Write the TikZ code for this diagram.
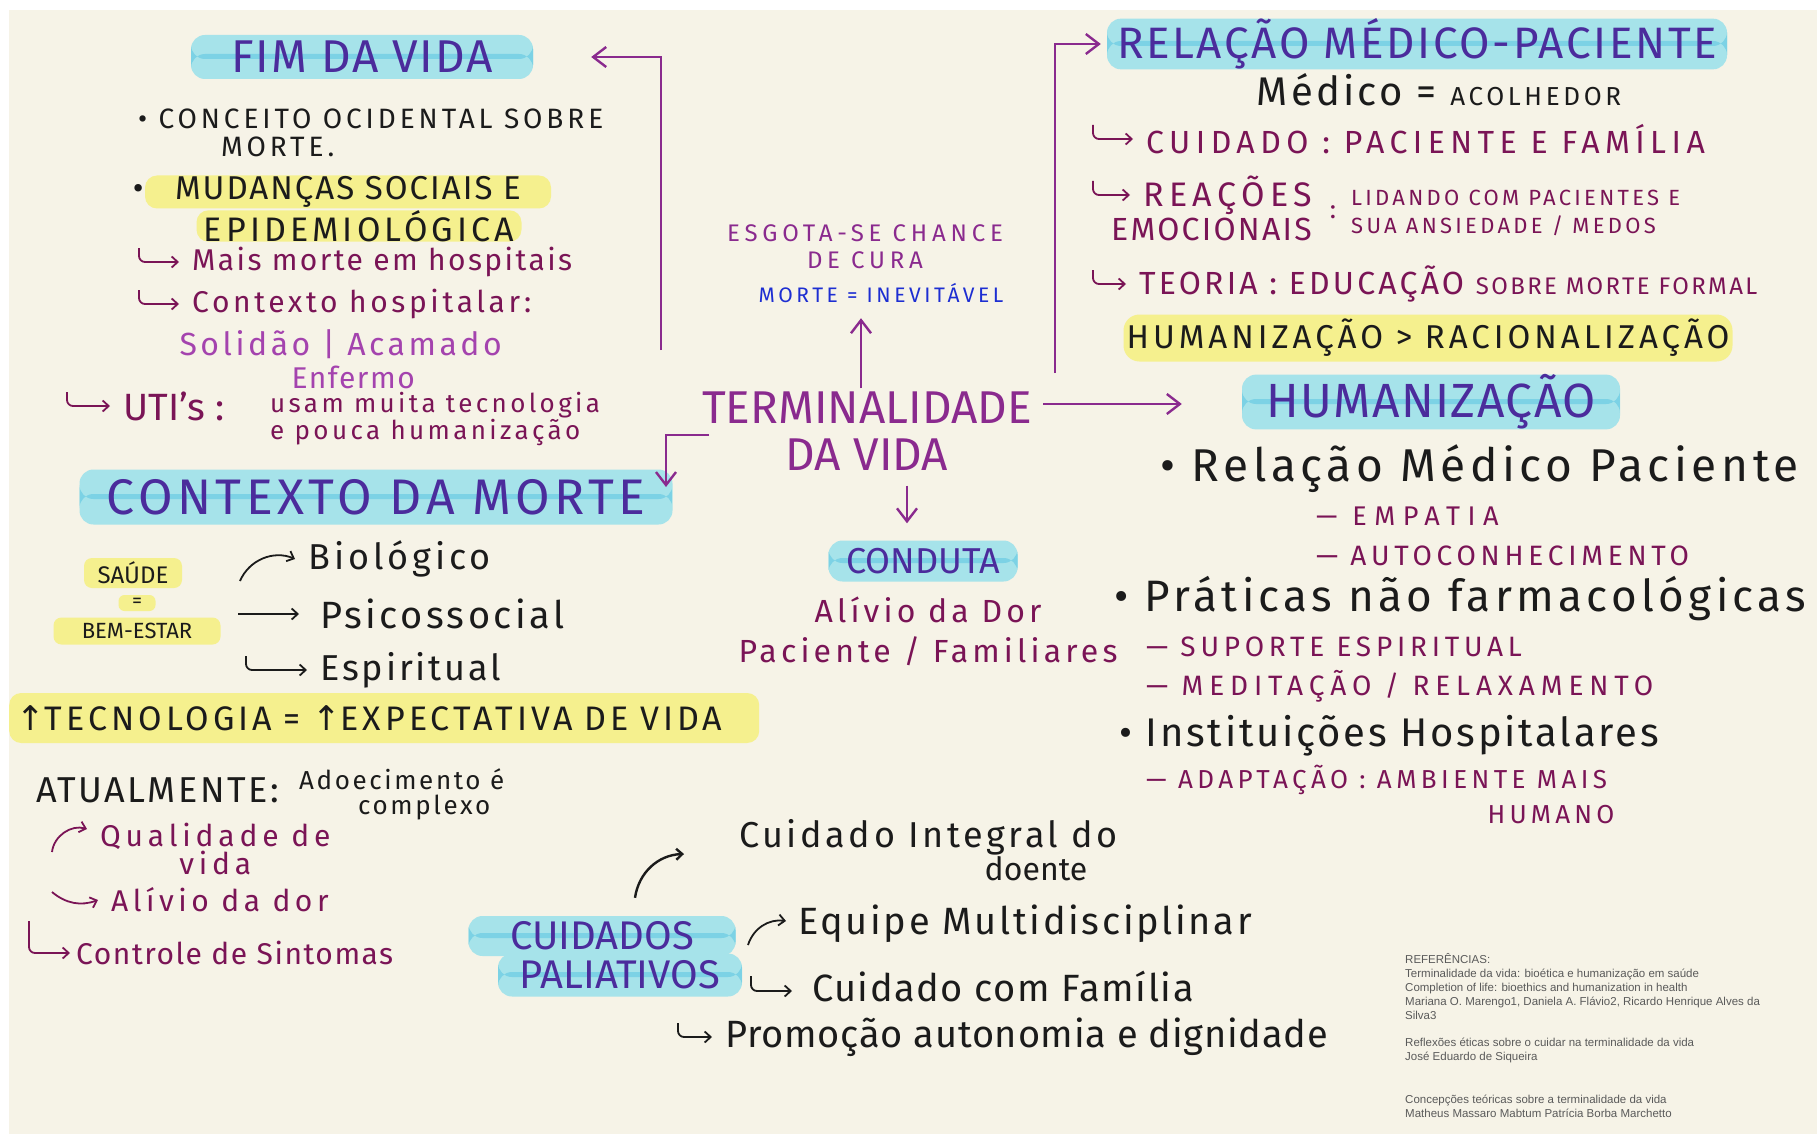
\documentclass[tikz,border=0pt]{standalone}
\usepackage{fontspec}
\setmainfont{Fira Sans}
\newfontfamily\reffont{Liberation Sans}
\newfontfamily\symfont{DejaVu Sans}
\usetikzlibrary{positioning,arrows.meta,calc}

\definecolor{paper}{HTML}{F6F3E7}
\definecolor{hlcyan}{HTML}{A6E3EA}
\definecolor{hlband}{HTML}{7CD2E5}
\definecolor{hlyellow}{HTML}{F5F08E}
\definecolor{titleblue}{HTML}{4B2C9C}
\definecolor{stem}{HTML}{8A2A8E}
\definecolor{plumtxt}{HTML}{7A1456}
\definecolor{lilac}{HTML}{A443AE}
\definecolor{inev}{HTML}{1D2ED2}
\definecolor{inkblack}{HTML}{1B1B1B}
\definecolor{refgray}{HTML}{5A5A5A}

\newcommand\fs[2]{\fontsize{#1}{#2}\selectfont}
\newcommand\ls[1]{\addfontfeature{LetterSpace=#1}}
\newcommand\hookin[3][inkblack]{%
  \draw[hk=#1] ([shift={(-#2pt,14pt)}]#3.west) |- ([xshift=-12pt]#3.west);}

\tikzset{
  ink/.style={text=inkblack,inner sep=1pt},
  plum/.style={text=plumtxt,inner sep=1pt},
  ttl/.style={text=titleblue,fill=hlcyan,rounded corners=14pt,inner sep=0pt,
    path picture={\fill[hlband] ([yshift=-2pt]path picture bounding box.west)
      rectangle ([yshift=3pt]path picture bounding box.east);}},
  hly/.style={fill=hlyellow,rounded corners=12pt,inner sep=0pt},
  arr/.style={draw=stem,line width=2.4pt,-{Straight Barb[length=13pt,width=20pt]}},
  hk/.style={draw=#1,line width=1.8pt,rounded corners=6pt,
    -{Straight Barb[length=6pt,width=11pt]}},
  hk/.default=inkblack,
}

\begin{document}
\begin{tikzpicture}[x=1pt,y=-1pt]

	\fill[white] (0,0) rectangle (1817,1134);
	\fill[paper] (9,10) rectangle (1817,1134);
	\useasboundingbox (0,0) rectangle (1817,1134);

	%%%%%%%%%%%%%%%%%%%%%%%%%%%%%%%%%%%%%%%%%%%%%%%%%%%%%%

	\node [text=stem,align=center,inner sep=1pt,font={\fs{46}{47}}] (term) at (867,431) {TERMINALIDADE\\DA VIDA};

	\node [text=stem,align=center,font={\fs{24}{27}\ls{20}}] (esgota) at (865,247) {ESGOTA-SE CHANCE\\DE CURA};
	\node [text=inev,font={\fs{21}{24}\ls{17}}] (inev) at (881,293) {MORTE = INEVITÁVEL};
	\draw [arr,shorten <=2pt,shorten >=12pt] ([xshift=-6pt]term.north) -- ([xshift=-20pt]inev.south);

	\node [ttl,minimum width=189pt,minimum height=41pt,font={\fs{36}{40}}] (conduta) at (923,561) {CONDUTA};
	\draw [arr,shorten <=14pt,shorten >=17pt] ([xshift=40pt]term.south) -- ([xshift=-16pt]conduta.north);
	\node [plum,align=center,font={\fs{32}{40}\ls{13}}] (conduta-txt) at (928,631) {Alívio da Dor\\Paciente / Familiares};

	%%%%%%%%%%%%%%%%%%%%%%%%%%%%%%%%%%%%%%%%%%%%%%%%%%%%%%

	\node [ttl,minimum width=342pt,minimum height=44pt,font={\fs{46}{48}\ls{4}}] (fim) at (362,57) {FIM DA VIDA};
	\coordinate (fim-root) at (661,350);
	\draw [arr] (fim-root) |- ([xshift=58pt]fim.east);

	\node [ink,anchor=west,font={\fs{28}{32}\ls{14}}] (conc) at (137,119) {• CONCEITO OCIDENTAL SOBRE};
	\node [ink,anchor=west,font={\fs{28}{32}\ls{14}}] (conc-b) at (220,147) {MORTE.};

	\node [ink,hly,minimum width=406pt,minimum height=33pt,font={\fs{33}{36}\ls{6}}] (mud-a) at (348,192) {MUDANÇAS SOCIAIS E};
	\node [ink,left=0pt of mud-a,font={\fs{33}{36}}] (mud-dot) {•};
	\node [ink,hly,minimum width=325pt,minimum height=30pt,font={\fs{34}{36}\ls{12}}] (mud-b) at (359,226) {EPIDEMIOLÓGICA};

	\node [plum,anchor=west,font={\fs{30}{34}\ls{8}}] (mais) at (191,262) {Mais morte em hospitais};
	\hookin[plumtxt]{52}{mais}
	\node [plum,anchor=west,font={\fs{30}{34}\ls{12}}] (hosp) at (191,304) {Contexto hospitalar:};
	\hookin[plumtxt]{52}{hosp}
	\node [text=lilac,anchor=west,font={\fs{32}{36}\ls{11}}] (solid) at (176,344) {Solidão | Acamado};
	\node [text=lilac,anchor=west,font={\fs{30}{34}\ls{5}}] (enf) at (288,377) {Enfermo};
	\node [plum,anchor=west,font={\fs{38}{42}}] (uti) at (122,406) {UTI's :};
	\hookin[plumtxt]{55}{uti}
	\node [plum,anchor=west,align=left,font={\fs{26}{27}\ls{13}}] (usam) at (269,419) {usam muita tecnologia\\e pouca humanização};

	%%%%%%%%%%%%%%%%%%%%%%%%%%%%%%%%%%%%%%%%%%%%%%%%%%%%%%

	\node [ttl,minimum width=593pt,minimum height=55pt,font={\fs{50}{54}\ls{9}}] (ctx) at (376,497) {CONTEXTO DA MORTE};
	\coordinate (ctx-tip) at (666,487);
	\draw [arr] ([xshift=8pt,yshift=-4pt]term.west) -| (ctx-tip);

	\node [ink,hly,minimum width=98pt,minimum height=30pt,rounded corners=8pt,font={\fs{24}{26}}] (saude) at (133,573) {SAÚDE};
	\node [ink,hly,minimum width=37pt,minimum height=16pt,rounded corners=6pt,font={\fs{20}{20}}] (saude-eq) at (137,603) {=};
	\node [ink,hly,minimum width=167pt,minimum height=27pt,rounded corners=8pt,font={\fs{22}{24}}] (bem) at (137,631) {BEM-ESTAR};

	\node [ink,anchor=west,font={\fs{36}{40}\ls{11}}] (bio) at (307,559) {Biológico};
	\node [ink,anchor=west,font={\fs{38}{42}\ls{9}}] (psico) at (319,614) {Psicossocial};
	\node [ink,anchor=west,font={\fs{36}{40}\ls{8}}] (esp) at (319,670) {Espiritual};
	\draw [hk] ([shift={(-67pt,-22pt)}]bio.west) to[bend left=45] ([xshift=-12pt]bio.west);
	\draw [hk] ([xshift=-81pt]psico.west) -- ([xshift=-20pt]psico.west);
	\hookin{73}{esp}

	\node [ink,hly,anchor=west,minimum width=750pt,minimum height=50pt,text width=736pt,align=left,font={\fs{34}{38}\ls{12}}] (tecno) at (9,718)
		{{\symfont ↑}TECNOLOGIA = {\symfont ↑}EXPECTATIVA DE VIDA};

	\node [ink,anchor=west,font={\fs{36}{40}\ls{7}}] (atual) at (35,790) {ATUALMENTE:};
	\node [ink,anchor=west,font={\fs{26}{30}\ls{10}}] (adoec) at (298,779) {Adoecimento é};
	\node [ink,anchor=west,font={\fs{26}{30}\ls{10}}] (complexo) at (357,808) {complexo};

	\node [plum,anchor=west,align=center,font={\fs{30}{25}\ls{16}}] (qual) at (99,849) {Qualidade de\\vida};
	\draw [hk=plumtxt] ([shift={(-47pt,-3pt)}]qual.west) to[bend left=50] ([shift={(-12pt,20pt)}]qual.west);
	\node [plum,anchor=west,font={\fs{30}{34}\ls{15}}] (alivio) at (110,900) {Alívio da dor};
	\draw [hk=plumtxt] ([shift={(-58pt,8pt)}]alivio.west) to[bend right=30] ([xshift=-12pt]alivio.west);
	\node [plum,anchor=west,font={\fs{30}{34}\ls{5}}] (ctrl) at (75,953) {Controle de Sintomas};
	\draw [hk=plumtxt] ([shift={(-46pt,32pt)}]ctrl.west) |- ([xshift=-5pt]ctrl.west);

	%%%%%%%%%%%%%%%%%%%%%%%%%%%%%%%%%%%%%%%%%%%%%%%%%%%%%%

	\node [ttl,minimum width=620pt,minimum height=46pt,font={\fs{44}{48}\ls{6}}] (rel) at (1417,44) {RELAÇÃO MÉDICO-PACIENTE};
	\coordinate (rel-root) at (1055,373);
	\draw [arr] (rel-root) |- ([xshift=-6pt]rel.west);

	\node [ink,font={\fs{40}{44}\ls{8}}] (medico) at (1439,90) {Médico = {\fs{26}{30}\ls{14}ACOLHEDOR}};
	\node [plum,anchor=west,font={\fs{32}{36}\ls{17}}] (cuid) at (1145,139) {CUIDADO : PACIENTE E FAMÍLIA};
	\hookin[plumtxt]{52}{cuid}
	\node [plum,anchor=west,font={\fs{34}{38}\ls{16}}] (reac) at (1142,195) {REAÇÕES};
	\hookin[plumtxt]{49}{reac}
	\node [plum,anchor=west,font={\fs{32}{36}\ls{7}}] (emoc) at (1110,229) {EMOCIONAIS};
	\node [plum,font={\fs{26}{30}}] (reac-colon) at (1333,212) {:};
	\node [plum,anchor=west,align=left,font={\fs{22}{28}\ls{15}}] (lidando) at (1350,213) {LIDANDO COM PACIENTES E\\SUA ANSIEDADE / MEDOS};
	\node [plum,anchor=west,font={\fs{32}{36}\ls{10}}] (teoria) at (1138,284) {TEORIA : EDUCAÇÃO {\fs{24}{28}SOBRE MORTE FORMAL}};
	\hookin[plumtxt]{45}{teoria}
	\node [ink,hly,minimum width=609pt,minimum height=47pt,rounded corners=16pt,font={\fs{33}{36}\ls{12}}] (humrac) at (1428,338) {HUMANIZAÇÃO > RACIONALIZAÇÃO};

	%%%%%%%%%%%%%%%%%%%%%%%%%%%%%%%%%%%%%%%%%%%%%%%%%%%%%%

	\node [ttl,minimum width=378pt,minimum height=49pt,font={\fs{48}{52}\ls{3}}] (hum) at (1431,402) {HUMANIZAÇÃO};
	\draw [arr] ([xshift=10pt,yshift=27pt]term.east) -- ([shift={(-60pt,-2pt)}]hum.west);

	\node [ink,anchor=west,font={\fs{46}{48}\ls{10}}] (hum-rel) at (1159,469) {• Relação Médico Paciente};
	\node [plum,anchor=west,font={\fs{27}{30}\ls{28}}] (emp) at (1315,516) {— EMPATIA};
	\node [plum,anchor=west,font={\fs{28}{30}\ls{17}}] (autoc) at (1315,556) {— AUTOCONHECIMENTO};
	\node [ink,anchor=west,font={\fs{44}{48}\ls{10}}] (prat) at (1113,599) {• Práticas não farmacológicas};
	\node [plum,anchor=west,font={\fs{28}{30}\ls{17}}] (sup) at (1145,647) {— SUPORTE ESPIRITUAL};
	\node [plum,anchor=west,font={\fs{28}{30}\ls{21}}] (medit) at (1145,686) {— MEDITAÇÃO / RELAXAMENTO};
	\node [ink,anchor=west,font={\fs{40}{44}\ls{7}}] (inst) at (1118,736) {• Instituições Hospitalares};
	\node [plum,anchor=west,font={\fs{26}{30}\ls{17}}] (adapt) at (1145,780) {— ADAPTAÇÃO : AMBIENTE MAIS};
	\node [plum,font={\fs{26}{30}\ls{16}}] (humano) at (1551,815) {HUMANO};

	%%%%%%%%%%%%%%%%%%%%%%%%%%%%%%%%%%%%%%%%%%%%%%%%%%%%%%

	\node [ttl,minimum width=267pt,minimum height=40pt,font={\fs{40}{44}}] (cp-a) at (602,936) {CUIDADOS};
	\node [ttl,minimum width=244pt,minimum height=43pt,font={\fs{40}{44}}] (cp-b) at (620,975) {PALIATIVOS};

	\node [ink,anchor=west,font={\fs{36}{40}\ls{10}}] (integ) at (738,837) {Cuidado Integral do};
	\node [ink,font={\fs{32}{36}}] (doente) at (1036,869) {doente};
	\coordinate (integ-tip) at (684,854);
	\draw [hk,line width=2.4pt] ([xshift=33pt,yshift=18pt]cp-a.north) to[bend left=40] (integ-tip);

	\node [ink,anchor=west,font={\fs{38}{42}\ls{7}}] (equipe) at (797,924) {Equipe Multidisciplinar};
	\draw [hk] ([shift={(-49pt,-21pt)}]equipe.west) to[bend left=40] ([shift={(-11pt,3pt)}]equipe.west);
	\node [ink,anchor=west,font={\fs{38}{42}\ls{4}}] (famil) at (811,986) {Cuidado com Família};
	\draw [hk] ([shift={(-60pt,10pt)}]famil.west) |- ([shift={(-19pt,-5pt)}]famil.west);
	\node [ink,anchor=west,font={\fs{38}{42}\ls{2}}] (promo) at (724,1037) {Promoção autonomia e dignidade};
	\hookin{46}{promo}

	%%%%%%%%%%%%%%%%%%%%%%%%%%%%%%%%%%%%%%%%%%%%%%%%%%%%%%

	\node [anchor=north west,align=left,inner sep=0pt,text=refgray,font={\reffont\fs{11.5}{14}}] (refs) at (1405,953)
		{REFERÊNCIAS:\\
		Terminalidade da vida: bioética e humanização em saúde\\
		Completion of life: bioethics and humanization in health\\
		Mariana O. Marengo1, Daniela A. Flávio2, Ricardo Henrique Alves da\\
		Silva3\\[13pt]
		Reflexões éticas sobre o cuidar na terminalidade da vida\\
		José Eduardo de Siqueira\\[29pt]
		Concepções teóricas sobre a terminalidade da vida\\
		Matheus Massaro Mabtum Patrícia Borba Marchetto};

\end{tikzpicture}
\end{document}
